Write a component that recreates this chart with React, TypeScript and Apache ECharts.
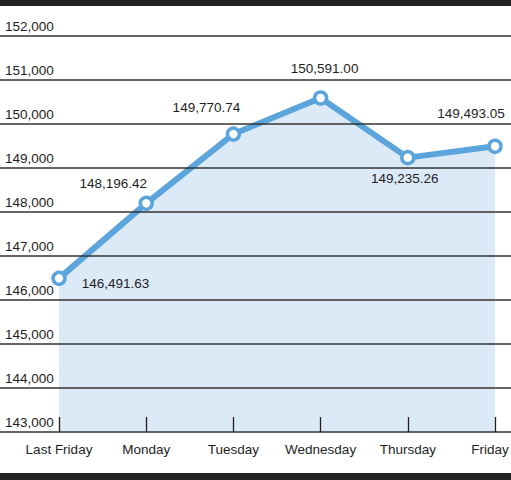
import { useEffect, useRef } from 'react'
import * as echarts from 'echarts'

// Weekly closing values, Last Friday → Friday.
const days = ['Last Friday', 'Monday', 'Tuesday', 'Wednesday', 'Thursday', 'Friday']
const closes = [146491.63, 148196.42, 149770.74, 150591.0, 149235.26, 149493.05]
const closeLabels = ['146,491.63', '148,196.42', '149,770.74', '150,591.00', '149,235.26', '149,493.05']

const Y_MIN = 143000
const Y_MAX = 152000
const Y_STEP = 1000

const COLOR = {
  line: '#5ba5dc',
  area: '#dce9f7',
  ink: '#1e1e1e',
  rule: '#333333',
  bar: '#222222',
}

const FONT = "'Liberation Sans', Arial, sans-serif"
const FS = 13.5

// label placement per point (position, distance, offset)
const labelPlace: Array<{ position: string; distance: number; offset: [number, number] }> = [
  { position: 'right', distance: 15, offset: [0, 5] },
  { position: 'top', distance: 5, offset: [-33, 0] },
  { position: 'top', distance: 12, offset: [-27, 0] },
  { position: 'top', distance: 15, offset: [4, 0] },
  { position: 'bottom', distance: 6, offset: [-3, 0] },
  { position: 'top', distance: 18, offset: [-24, 0] },
]

function buildOption(): echarts.EChartsOption {
  return {
    animation: false,
    backgroundColor: '#ffffff',
    textStyle: { fontFamily: FONT },
    grid: [
      { left: 59, right: 16, top: 36, bottom: 48, outerBoundsMode: 'none' } as any,
      { left: 0, right: 0, top: 36, bottom: 48, outerBoundsMode: 'none' } as any,
    ],
    xAxis: [
      {
        type: 'category',
        gridIndex: 0,
        data: days,
        boundaryGap: false,
        z: 10,
        axisLine: { show: false },
        axisTick: { show: true, inside: true, length: 15, lineStyle: { color: COLOR.ink, width: 1.3 } },
        axisLabel: {
          color: COLOR.ink,
          fontSize: FS,
          fontFamily: FONT,
          margin: 10,
          interval: 0,
          formatter: (v: string) => (v === 'Friday' ? `{last|${v}}` : v),
          rich: { last: { fontSize: FS, fontFamily: FONT, color: COLOR.ink, padding: [0, 10, 0, 0] } },
        },
        splitLine: { show: false },
      },
      {
        type: 'value',
        gridIndex: 1,
        min: 0,
        max: 1,
        show: false,
      },
    ],
    yAxis: [
      {
        type: 'value',
        gridIndex: 0,
        min: Y_MIN,
        max: Y_MAX,
        interval: Y_STEP,
        show: false,
      },
      {
        type: 'value',
        gridIndex: 1,
        min: Y_MIN,
        max: Y_MAX,
        interval: Y_STEP,
        z: 10,
        axisLine: { show: false },
        axisTick: { show: false },
        axisLabel: {
          inside: true,
          margin: 5,
          align: 'left',
          verticalAlign: 'bottom',
          padding: [0, 0, 3, 0],
          color: COLOR.ink,
          fontSize: FS,
          fontFamily: FONT,
          formatter: (v: number) => v.toLocaleString('en-US'),
        },
        splitLine: { show: true, lineStyle: { color: COLOR.rule, width: 1.5 } },
      },
    ],
    graphic: [
      { type: 'rect', left: 0, top: 0, shape: { width: 511, height: 6 }, style: { fill: COLOR.bar } },
      { type: 'rect', left: 0, top: 473, shape: { width: 511, height: 7 }, style: { fill: COLOR.bar } },
    ],
    series: [
      {
        type: 'line',
        xAxisIndex: 0,
        yAxisIndex: 0,
        z: 3,
        data: closes.map((v, i) => ({
          value: v,
          label: {
            show: true,
            formatter: closeLabels[i],
            position: labelPlace[i].position as any,
            distance: labelPlace[i].distance,
            offset: labelPlace[i].offset,
          },
        })),
        symbol: 'circle',
        symbolSize: 12,
        showSymbol: true,
        lineStyle: { color: COLOR.line, width: 6 },
        itemStyle: { color: '#ffffff', borderColor: COLOR.line, borderWidth: 3.5 },
        areaStyle: { color: COLOR.area, opacity: 1, origin: 'start' },
        label: { color: COLOR.ink, fontSize: FS, fontFamily: FONT },
        emphasis: { disabled: true },
      },
    ],
  }
}

export default function App() {
  const ref = useRef<HTMLDivElement>(null)

  useEffect(() => {
    document.body.style.margin = '0'
    const el = ref.current
    if (!el) return
    const chart = echarts.init(el, undefined, { renderer: 'svg' })
    chart.setOption(buildOption())
    return () => chart.dispose()
  }, [])

  return <div ref={ref} style={{ width: 511, height: 480 }} />
}
